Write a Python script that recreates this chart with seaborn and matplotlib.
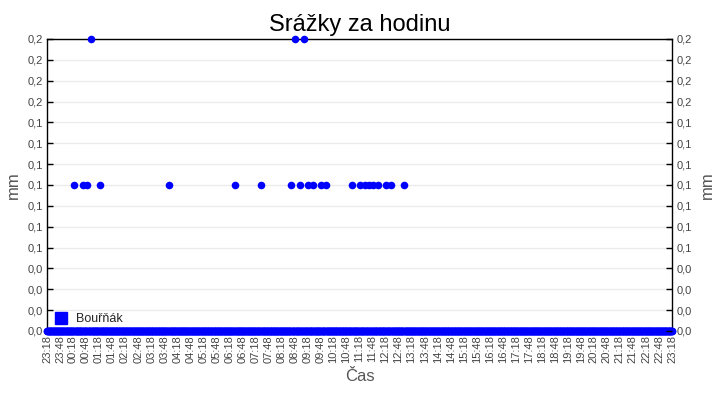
import pandas as pd
import seaborn as sns
import matplotlib.pyplot as plt
from matplotlib.lines import Line2D
from matplotlib.ticker import FixedLocator, FuncFormatter

# axis runs over 24 hours, starting at 23:18
start = pd.Timestamp('2024-05-01 23:18')
first_reading = '2024-05-01 23:18'
last_reading = '2024-05-02 23:18'

# non-zero readings (all the other 1-minute readings are 0,0 mm)
wet_times = ['00:20', '00:40', '00:50', '01:00', '01:20', '04:00', '06:30',
             '07:30', '08:40', '08:50', '09:00', '09:10', '09:20', '09:30',
             '09:50', '10:00', '11:00', '11:20', '11:30', '11:40', '11:50',
             '12:00', '12:20', '12:30', '13:00']
wet_mm = [0.1, 0.1, 0.1, 0.2, 0.1, 0.1, 0.1,
          0.1, 0.1, 0.2, 0.1, 0.2, 0.1, 0.1,
          0.1, 0.1, 0.1, 0.1, 0.1, 0.1, 0.1,
          0.1, 0.1, 0.1, 0.1]

series_name = 'Bouřňák'
y_max = 0.2
n_yticks = 15

times = pd.date_range(first_reading, last_reading, freq='1min')
wet = dict(zip(wet_times, wet_mm))
df = pd.DataFrame({'time': times})
df['mm'] = [wet.get(t.strftime('%H:%M'), 0.0) for t in times]
df['minutes'] = (df['time'] - start).dt.total_seconds() / 60

sns.set_style('white')
plt.rcParams['font.family'] = ['Liberation Sans', 'DejaVu Sans']

fig = plt.figure(figsize=(7.2, 4), dpi=100)
ax = fig.add_axes([47 / 720, 69 / 400, 625 / 720, 292 / 400])

sns.scatterplot(data=df, x='minutes', y='mm', color='#0000ff', s=30,
                linewidth=0, ax=ax, zorder=4, clip_on=False, legend=False)

yt = [y_max * i / (n_yticks - 1) for i in range(n_yticks)]
fmt = FuncFormatter(lambda v, p: f'{v:.1f}'.replace('.', ','))
xt = list(range(0, 24 * 60 + 1, 30))
xlab = [(start + pd.Timedelta(minutes=m)).strftime('%H:%M') for m in xt]

ax.set_xlim(0, 24 * 60)
ax.set_ylim(0, y_max)
ax.yaxis.set_major_locator(FixedLocator(yt))
ax.yaxis.set_major_formatter(fmt)
ax.set_xticks(xt)
ax.set_xticklabels(xlab, rotation=90)
ax.yaxis.grid(True, color='#ebebeb', lw=1)
ax.set_axisbelow(True)
for s in ax.spines.values():
    s.set_color('black')
    s.set_linewidth(1)
ax.tick_params(axis='both', direction='in', length=4, width=1, color='black',
               labelsize=8, labelcolor='#444444', pad=3)

ax2 = ax.twinx()
ax2.set_ylim(0, y_max)
ax2.yaxis.set_major_locator(FixedLocator(yt))
ax2.yaxis.set_major_formatter(fmt)
ax2.tick_params(axis='y', direction='in', length=4, width=1, color='black',
                labelsize=8, labelcolor='#444444', pad=3)
for s in ax2.spines.values():
    s.set_visible(False)

ax.set_xlabel('Čas', fontsize=12, color='#555555', labelpad=4)
ax.set_ylabel('mm', fontsize=12, color='#555555', labelpad=5)
ax2.set_ylabel('mm', fontsize=12, color='#555555', labelpad=6)
ax.set_title('Srážky za hodinu', fontsize=17, color='black', pad=6)

handle = Line2D([], [], marker='s', color='#0000ff', linestyle='', markersize=8)
ax.legend([handle], [series_name], loc='lower left', frameon=False,
          fontsize=9, handlelength=1.0, handletextpad=0.7, borderaxespad=0.0,
          borderpad=0.3, bbox_to_anchor=(0.006, 0.008))

fig.savefig('out.png', dpi=100)
